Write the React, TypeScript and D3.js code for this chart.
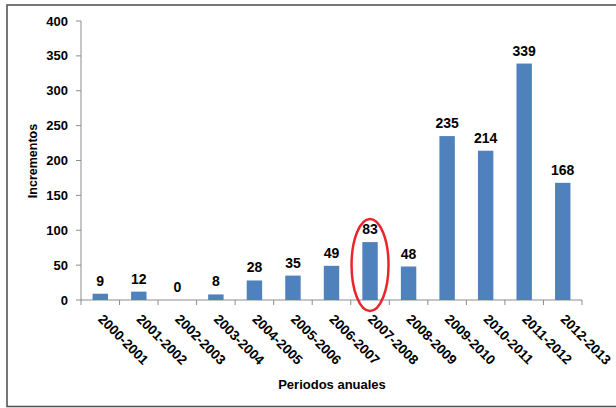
import * as d3 from 'd3';

const periods = [
  '2000-2001', '2001-2002', '2002-2003', '2003-2004', '2004-2005', '2005-2006', '2006-2007',
  '2007-2008', '2008-2009', '2009-2010', '2010-2011', '2011-2012', '2012-2013',
];
const increments = [9, 12, 0, 8, 28, 35, 49, 83, 48, 235, 214, 339, 168];
const yTicks = [0, 50, 100, 150, 200, 250, 300, 350, 400];
const highlighted = '2007-2008';

const W = 616;
const H = 408;
const FONT = '"Liberation Sans", Arial, sans-serif';

export default function App() {
  const x = d3.scaleBand<string>().domain(periods).range([81, 582]).paddingInner(0.6).paddingOuter(0.3);
  const band = d3.scaleBand<string>().domain(periods).range([81, 582]);
  const y = d3.scaleLinear().domain([0, 400]).range([300, 21]);

  const hx = (band(highlighted) ?? 0) + band.bandwidth() / 2;
  const hv = increments[periods.indexOf(highlighted)];

  return (
    <svg
      width={W}
      height={H}
      style={{ position: 'absolute', left: 0, top: 0, fontFamily: FONT }}
    >
      <rect x={0} y={0} width={W} height={H} fill="#fff" />
      <rect x={7} y={5} width={W} height={401.5} fill="none" stroke="#555" strokeWidth={1.6} />

      {/* y axis */}
      <line x1={81} x2={81} y1={y(400)} y2={y(0)} stroke="#8c8c8c" />
      {yTicks.map((t) => (
        <g key={t}>
          <line x1={76} x2={81} y1={y(t)} y2={y(t)} stroke="#8c8c8c" />
          <text x={68} y={y(t)} dy="0.35em" textAnchor="end" fontSize={13} fontWeight="bold">
            {t}
          </text>
        </g>
      ))}
      <text
        transform={`translate(37,161) rotate(-90)`}
        textAnchor="middle"
        fontSize={12.5}
        fontWeight="bold"
      >
        Incrementos
      </text>

      {/* x axis */}
      <line x1={81} x2={582} y1={y(0)} y2={y(0)} stroke="#8c8c8c" />
      {periods.map((p, i) => (
        <line
          key={p}
          x1={81 + band.step() * i}
          x2={81 + band.step() * i}
          y1={y(0)}
          y2={y(0) + 5}
          stroke="#8c8c8c"
        />
      ))}
      <line x1={582} x2={582} y1={y(0)} y2={y(0) + 5} stroke="#8c8c8c" />

      {/* bars and labels */}
      {periods.map((p, i) => {
        const cx = (band(p) ?? 0) + band.bandwidth() / 2;
        return (
          <g key={p}>
            <rect
              x={x(p)}
              y={y(increments[i])}
              width={x.bandwidth()}
              height={y(0) - y(increments[i])}
              fill="#4f81bd"
            />
            <text
              x={cx}
              y={y(increments[i]) - 8}
              textAnchor="middle"
              fontSize={14}
              fontWeight="bold"
            >
              {increments[i]}
            </text>
            <text
              transform={`translate(${cx - 3},${y(0) + 20}) rotate(45)`}
              fontSize={13.5}
              fontWeight="bold"
            >
              {p}
            </text>
          </g>
        );
      })}

      <text x={332} y={389} textAnchor="middle" fontSize={13} fontWeight="bold">
        Periodos anuales
      </text>

      {/* highlight */}
      <ellipse
        cx={hx}
        cy={(y(hv) + y(0)) / 2 - 6}
        rx={18.5}
        ry={46}
        fill="none"
        stroke="#e8262b"
        strokeWidth={2.5}
      />
    </svg>
  );
}
